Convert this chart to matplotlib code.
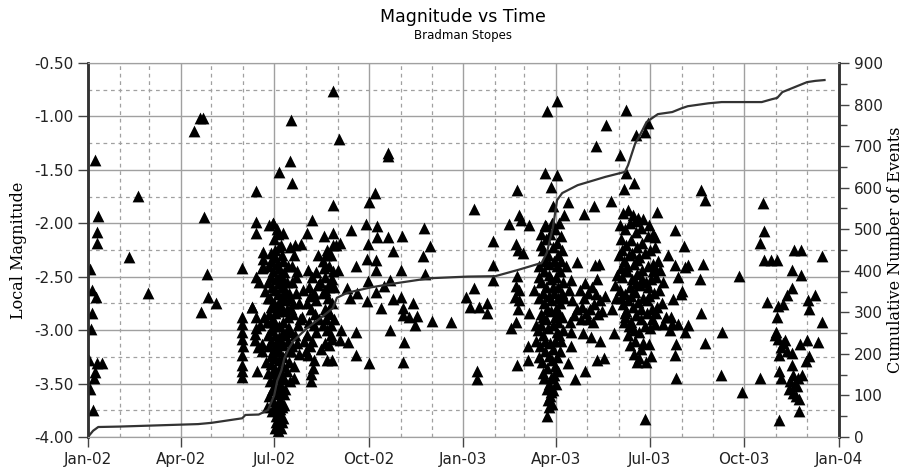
import numpy as np
import matplotlib.pyplot as plt
import matplotlib.dates as mdates
from matplotlib.ticker import MultipleLocator, FormatStrFormatter

# events as (days since 1 Jan 2002, local magnitude)
jan_jun_02 = [(7, -1.41), (10, -1.93), (9, -2.08), (9, -2.18), (2, -2.43), (4, -2.62), (8, -2.69),
              (4, -2.84), (3, -2.99), (1, -3.28), (9, -3.31), (14, -3.31), (7, -3.39), (6, -3.45),
              (2, -3.55), (5, -3.75), (49, -1.74), (40, -2.32), (58, -2.65), (103, -1.14),
              (109, -1.01), (112, -1.01), (113, -1.94), (116, -2.47), (117, -2.69), (124, -2.75),
              (110, -2.83)]

jun_02 = [(163, -1.70), (163, -1.99), (163, -2.09), (170, -2.27), (150, -2.42), (170, -2.41),
          (163, -2.50), (166, -2.55), (172, -2.63), (159, -2.78), (150, -2.88), (150, -2.94),
          (163, -2.88), (171, -2.88), (163, -2.98), (150, -3.08), (162, -3.09), (169, -3.13),
          (169, -3.20), (150, -3.23), (150, -3.33), (150, -3.44), (164, -3.38), (150, -3.02),
          (151, -3.15), (150, -3.38), (162, -3.04), (165, -3.16), (167, -2.95), (169, -2.42),
          (159, -2.78), (170, -2.33)]

jul_02 = [(176, -2.02), (180, -2.00), (178, -2.28), (182, -2.25), (176, -2.40), (180, -2.45),
          (184, -2.38), (186, -2.22), (175, -2.55), (179, -2.60), (183, -2.52), (187, -2.48),
          (190, -2.35), (177, -2.70), (181, -2.75), (185, -2.66), (189, -2.60), (193, -2.55),
          (176, -2.85), (180, -2.90), (184, -2.82), (188, -2.78), (192, -2.72), (178, -3.00),
          (182, -3.05), (186, -2.96), (190, -2.92), (194, -2.88), (176, -3.15), (180, -3.20),
          (184, -3.12), (188, -3.10), (192, -3.05), (196, -3.02), (178, -3.32), (182, -3.36),
          (186, -3.28), (190, -3.25), (194, -3.20), (177, -3.48), (181, -3.52), (185, -3.45),
          (189, -3.42), (193, -3.38), (176, -3.62), (180, -3.66), (184, -3.60), (188, -3.58),
          (192, -3.55), (179, -3.76), (183, -3.80), (187, -3.74), (191, -3.70), (185, -3.88),
          (188, -3.92), (187, -3.98), (184, -3.70), (181, -2.15), (185, -2.10), (189, -2.30),
          (191, -2.46), (195, -2.65), (197, -2.80), (174, -2.92), (173, -3.30), (195, -3.30),
          (196, -3.48), (174, -3.72), (190, -3.82), (182, -3.92),
          (178, -2.35), (182, -2.32), (186, -2.42), (190, -2.52), (178, -2.50), (182, -2.62),
          (186, -2.56), (190, -2.70), (178, -2.78), (182, -2.84), (186, -2.74), (190, -2.82),
          (178, -2.92), (182, -2.96), (186, -3.06), (190, -3.02), (178, -3.10), (182, -3.16),
          (186, -3.20), (190, -3.14), (178, -3.24), (182, -3.26), (186, -3.36), (190, -3.34),
          (179, -3.40), (183, -3.44), (187, -3.50), (191, -3.46), (179, -3.56), (183, -3.54),
          (187, -3.64), (191, -3.60), (181, -3.72), (185, -3.76), (189, -3.72), (183, -3.86),
          (187, -3.84), (185, -3.94), (189, -3.86), (175, -3.40), (175, -3.05), (175, -2.70),
          (194, -3.10), (194, -2.98), (193, -2.80), (192, -2.62), (188, -2.20), (184, -2.05)]

jul_aug_02 = [(180, -2.00), (190, -2.09), (197, -1.03), (196, -1.42), (186, -1.52), (198, -1.62),
              (200, -3.34), (200, -3.45), (196, -2.22), (200, -2.30), (203, -2.45), (198, -2.55),
              (202, -2.65), (205, -2.75), (199, -2.85), (204, -2.95), (201, -3.05), (198, -3.15),
              (205, -3.22), (207, -2.19), (209, -2.62), (208, -2.88), (210, -3.10), (194, -2.40),
              (196, -2.70), (195, -2.98), (197, -3.20), (213, -2.09), (218, -1.97), (198, -2.40),
              (202, -2.50), (199, -2.75), (203, -3.12), (206, -2.90), (201, -2.20)]

aug_sep_02 = [(214, -2.44), (218, -2.50), (222, -2.46), (215, -2.60), (220, -2.65), (224, -2.58),
              (213, -2.75), (217, -2.80), (222, -2.72), (215, -2.92), (220, -2.95), (213, -3.05),
              (218, -3.10), (222, -3.02), (214, -3.23), (217, -3.41), (217, -3.48), (212, -3.20),
              (220, -3.28), (229, -2.12), (238, -2.09), (232, -2.25), (236, -2.30), (228, -2.35),
              (234, -2.40), (238, -2.45), (230, -2.50), (235, -2.55), (239, -2.60), (228, -2.65),
              (233, -2.70), (237, -2.75), (230, -2.80), (235, -2.85), (239, -2.90), (228, -2.95),
              (232, -3.00), (236, -3.05), (227, -3.18), (232, -3.28), (237, -3.28), (237, -3.08),
              (230, -3.12), (225, -2.90), (224, -2.30), (226, -2.55), (241, -2.20), (243, -2.44),
              (245, -2.18), (246, -3.00), (245, -3.09), (216, -2.68), (221, -2.85), (216, -3.15),
              (219, -3.35), (231, -2.30), (234, -2.60), (231, -2.90), (234, -3.14), (229, -2.42),
              (237, -2.52), (233, -2.82), (236, -2.95), (230, -2.62), (238, -2.20)]

sep_dec_02 = [(238, -0.76), (244, -1.21), (238, -1.83), (292, -1.34), (292, -1.37), (279, -1.72),
              (273, -1.80), (256, -2.06), (270, -2.01), (281, -2.03), (281, -2.13), (272, -2.19),
              (292, -2.13), (305, -2.12), (297, -2.26), (327, -2.04), (332, -2.21), (326, -2.31),
              (328, -2.47), (271, -2.33), (280, -2.34), (261, -2.40), (280, -2.44), (272, -2.54),
              (304, -2.44), (294, -2.53), (288, -2.59), (252, -2.61), (262, -2.65), (280, -2.64),
              (271, -2.73), (285, -2.79), (297, -2.71), (304, -2.69), (306, -2.79), (316, -2.75),
              (320, -2.87), (306, -2.86), (312, -2.88), (318, -2.95), (334, -2.91), (353, -2.92),
              (367, -2.69), (294, -3.00), (261, -3.02), (253, -3.11), (307, -3.11), (261, -3.23),
              (273, -3.31), (306, -3.30), (255, -2.70)]

jan_mar_03 = [(375, -1.87), (394, -2.17), (394, -2.39), (394, -2.53), (375, -2.61), (371, -2.78),
              (380, -2.78), (388, -2.75), (388, -2.84), (378, -3.38), (378, -3.46), (417, -1.69),
              (409, -2.01), (419, -1.92), (421, -1.97), (429, -2.02), (416, -2.19), (418, -2.25),
              (423, -2.28), (417, -2.49), (416, -2.59), (415, -2.69), (419, -2.72), (418, -2.80),
              (429, -2.84), (416, -2.92), (411, -2.98), (428, -3.15), (428, -3.28), (417, -3.33),
              (419, -2.62)]

apr_03 = [(444, -1.53), (456, -1.55), (450, -1.66), (452, -1.84), (444, -2.02), (446, -0.95),
          (456, -0.86), (463, -1.92), (467, -1.80), (440, -2.10), (445, -2.15), (449, -2.10),
          (454, -2.05), (458, -2.00), (442, -2.25), (447, -2.30), (452, -2.22), (456, -2.18),
          (460, -2.12), (438, -2.40), (443, -2.45), (448, -2.38), (453, -2.35), (457, -2.30),
          (461, -2.25), (440, -2.55), (445, -2.60), (450, -2.52), (455, -2.50), (459, -2.45),
          (438, -2.70), (443, -2.75), (448, -2.68), (453, -2.65), (457, -2.60), (462, -2.55),
          (440, -2.85), (445, -2.90), (450, -2.82), (455, -2.80), (459, -2.75), (437, -3.00),
          (442, -3.05), (447, -2.98), (452, -2.95), (457, -2.92), (461, -2.88), (439, -3.15),
          (444, -3.20), (449, -3.12), (454, -3.10), (458, -3.05), (441, -3.30), (446, -3.35),
          (451, -3.28), (456, -3.25), (443, -3.45), (448, -3.50), (453, -3.42), (457, -3.38),
          (449, -3.62), (452, -3.56), (451, -3.69), (446, -3.80), (436, -2.95), (434, -2.62),
          (463, -2.70), (465, -2.40), (462, -3.00), (459, -3.20), (440, -2.20), (444, -2.35),
          (448, -2.48), (452, -2.60), (456, -2.40), (460, -2.35), (442, -2.65), (446, -2.80),
          (450, -2.72), (454, -2.88), (458, -2.84), (440, -2.95), (444, -3.10), (448, -3.24),
          (452, -3.18), (456, -3.02), (460, -3.10), (442, -3.40), (446, -3.55), (450, -3.45),
          (454, -3.34), (438, -3.25), (438, -2.50), (445, -2.03), (451, -2.00), (455, -3.50),
          (448, -3.72), (450, -3.58), (447, -3.65), (442, -2.88), (436, -3.10), (457, -2.70),
          (461, -2.65)]

apr_may_03 = [(475, -2.36), (493, -2.39), (497, -2.38), (470, -2.53), (483, -2.56), (495, -2.52),
              (469, -2.92), (470, -3.02), (470, -3.15), (481, -3.03), (489, -3.06), (498, -3.10),
              (511, -3.03), (495, -3.28), (502, -3.26), (467, -3.31), (483, -3.38), (473, -3.46),
              (509, -2.80), (522, -2.84), (541, -3.83), (482, -1.91), (492, -1.84), (508, -1.79),
              (478, -2.62), (482, -2.70), (486, -2.65), (490, -2.60), (494, -2.66), (498, -2.72),
              (480, -2.78), (484, -2.84), (488, -2.80), (492, -2.76), (496, -2.85), (500, -2.82),
              (486, -2.90), (491, -2.92), (479, -2.90), (503, -2.68), (471, -2.72), (475, -2.80),
              (468, -2.62), (472, -2.86)]

jun_03 = [(523, -0.94), (504, -1.08), (494, -1.28), (517, -1.36), (523, -1.53), (531, -1.62),
          (521, -1.68), (533, -1.17), (541, -1.15), (544, -1.06), (553, -1.89), (520, -1.90),
          (525, -1.88), (530, -1.92), (535, -1.95), (517, -2.02), (522, -2.05), (527, -2.00),
          (533, -2.08), (538, -2.04), (518, -2.15), (523, -2.20), (528, -2.16), (534, -2.22),
          (539, -2.18), (544, -2.12), (549, -2.10), (516, -2.30), (521, -2.35), (526, -2.30),
          (531, -2.38), (536, -2.32), (541, -2.28), (546, -2.25), (551, -2.22), (514, -2.48),
          (519, -2.50), (524, -2.45), (529, -2.52), (534, -2.47), (539, -2.44), (544, -2.40),
          (549, -2.38), (554, -2.35), (512, -2.58), (517, -2.62), (522, -2.66), (527, -2.60),
          (532, -2.64), (537, -2.58), (542, -2.55), (547, -2.52), (552, -2.50), (520, -2.76),
          (525, -2.72), (530, -2.78), (535, -2.74), (540, -2.70), (545, -2.68), (550, -2.65),
          (555, -2.62), (522, -2.88), (528, -2.92), (533, -2.86), (538, -2.90), (543, -2.84),
          (548, -2.80), (553, -2.78), (558, -2.75), (529, -2.97), (532, -3.10), (531, -3.22),
          (534, -3.30), (542, -3.30), (545, -3.13), (547, -3.24), (525, -3.05), (538, -3.18),
          (551, -2.13), (551, -2.42), (551, -2.94), (559, -2.55), (559, -2.94), (519, -2.25),
          (524, -2.40), (529, -2.28), (534, -2.34), (539, -2.52), (544, -2.60), (549, -2.45),
          (518, -2.70), (523, -2.82), (528, -2.68), (533, -2.56), (538, -2.80), (543, -2.72),
          (548, -2.90), (552, -2.84), (526, -2.96), (531, -3.00), (536, -3.02), (541, -2.96),
          (546, -2.98), (521, -2.92), (518, -2.42), (532, -1.98), (540, -1.96), (545, -2.02),
          (527, -3.14), (536, -3.26), (540, -3.12), (513, -2.70), (556, -2.44)]

jul_sep_03 = [(596, -1.69), (600, -1.78), (571, -2.06), (579, -2.21), (571, -2.39), (580, -2.41),
              (583, -2.39), (598, -2.38), (574, -2.50), (595, -2.52), (577, -2.63), (576, -2.66),
              (569, -2.71), (567, -2.88), (568, -2.94), (574, -2.94), (583, -2.95), (580, -3.02),
              (596, -2.84), (600, -3.12), (616, -3.02), (572, -3.13), (571, -3.23), (572, -3.45),
              (615, -3.42), (633, -2.49), (636, -3.58), (562, -2.88), (564, -2.30), (566, -3.00)]

oct_dec_03 = [(653, -3.45), (656, -1.81), (657, -2.07), (653, -2.18), (657, -2.34), (664, -2.34),
              (670, -2.34), (660, -2.74), (671, -2.77), (676, -2.76), (670, -2.88), (669, -3.02),
              (671, -3.08), (678, -3.09), (674, -3.16), (684, -3.21), (672, -3.23), (672, -3.38),
              (674, -3.45), (684, -3.33), (686, -2.25), (693, -2.25), (684, -2.44), (693, -2.48),
              (684, -2.61), (680, -2.67), (700, -2.72), (701, -2.80), (707, -2.67), (714, -2.31),
              (714, -2.92), (692, -3.13), (699, -3.09), (710, -3.11), (701, -3.24), (698, -3.29),
              (685, -3.42), (694, -3.42), (681, -3.55), (685, -3.59), (691, -3.64), (691, -3.76),
              (672, -3.84), (689, -3.52), (682, -3.48), (668, -3.05), (676, -3.12), (680, -3.20),
              (687, -3.50), (690, -3.45), (688, -3.62)]

# cumulative number of events, read at the bends of the curve
cum_days = [0, 5, 10, 30, 107, 120, 150, 153, 166, 175, 181, 184, 188, 191, 195, 200, 213, 228,
            238, 242, 252, 275, 294, 313, 332, 369, 396, 418, 441, 446, 452, 456, 461, 476, 503,
            522, 525, 532, 535, 543, 554, 568, 577, 583, 603, 616, 655, 665, 670, 675, 684, 699,
            707, 716]
cum_count = [0, 15, 24, 25, 31, 34, 45, 53, 54, 65, 100, 135, 160, 190, 212, 232, 262, 290,
             310, 335, 347, 360, 368, 375, 382, 386, 387, 402, 419, 443, 505, 570, 587, 606, 626,
             638, 654, 707, 719, 758, 777, 782, 791, 796, 803, 806, 806, 813, 816, 830, 839, 854,
             857, 859]

start = np.datetime64('2002-01-01')
events = (jan_jun_02 + jun_02 + jul_02 + jul_aug_02 + aug_sep_02 + sep_dec_02 + jan_mar_03
          + apr_03 + apr_may_03 + jun_03 + jul_sep_03 + oct_dec_03)
ev_days = np.array([e[0] for e in events])
ev_mag = np.array([e[1] for e in events])
ev_dates = start + ev_days.astype('timedelta64[D]')
cum_dates = start + np.array(cum_days).astype('timedelta64[D]')

fig = plt.figure(figsize=(9.05, 4.72), dpi=100)
ax = fig.add_axes([0.0972, 0.0742, 0.8298, 0.7923])
ax2 = ax.twinx()

ax.scatter(ev_dates, ev_mag, marker='^', s=72, color='black', linewidths=0, zorder=3)
ax2.plot(cum_dates, cum_count, color='#333333', lw=1.6)

ax.set_xlim(np.datetime64('2002-01-01'), np.datetime64('2004-01-01'))
ax.set_ylim(-4.0, -0.5)
ax2.set_ylim(0, 900)

ax.xaxis.set_major_locator(mdates.MonthLocator(bymonth=[1, 4, 7, 10]))
ax.xaxis.set_minor_locator(mdates.MonthLocator())
ax.xaxis.set_major_formatter(mdates.DateFormatter('%b-%y'))
ax.yaxis.set_major_locator(MultipleLocator(0.5))
ax.yaxis.set_minor_locator(MultipleLocator(0.25))
ax.yaxis.set_major_formatter(FormatStrFormatter('%.2f'))
ax2.yaxis.set_major_locator(MultipleLocator(100))
ax2.yaxis.set_minor_locator(MultipleLocator(50))

ax.grid(which='major', color='#a0a0a0', lw=1.0, ls='-')
ax.grid(which='minor', color='#a0a0a0', lw=0.9, ls=(0, (3, 3)))
ax.set_axisbelow(True)

ax.tick_params(which='major', direction='out', length=7, width=1, color='#444444',
               labelsize=11, labelcolor='#222222')
ax.tick_params(which='minor', length=0)
ax2.tick_params(which='major', direction='out', length=7, width=1, color='#444444',
                labelsize=11, labelcolor='#222222')
ax2.tick_params(which='minor', direction='out', length=6, width=1, color='#444444')

for a in (ax, ax2):
    a.spines['top'].set_color('#a0a0a0')
    a.spines['bottom'].set_color('#a0a0a0')
    a.spines['left'].set_color('#333333')
    a.spines['right'].set_color('#333333')
    a.spines['left'].set_linewidth(1.8)
    a.spines['right'].set_linewidth(1.8)

ax.set_ylabel('Local Magnitude', family='DejaVu Serif', fontsize=11.5, labelpad=5)
ax2.set_ylabel('Cumulative Number of Events', family='DejaVu Serif', fontsize=11.5, labelpad=3)

fig.text(0.512, 0.965, 'Magnitude vs Time', ha='center', va='center', fontsize=12.5)
fig.text(0.512, 0.925, 'Bradman Stopes', ha='center', va='center', fontsize=8.5)

fig.savefig('out.png', dpi=100)
